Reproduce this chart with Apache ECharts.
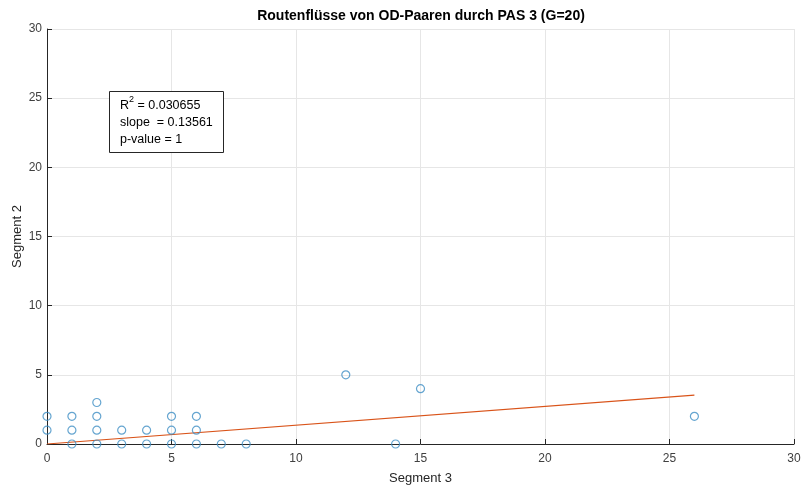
<!DOCTYPE html>
<html>
<head>
<meta charset="utf-8">
<script src="https://cdn.jsdelivr.net/npm/echarts@6/dist/echarts.min.js"></script>
<style>
html,body{margin:0;padding:0;background:#fff;}
#c{width:801px;height:486px;}
</style>
</head>
<body>
<div id="c"></div>
<script>
// Data
var pointsX = [0,0, 1,1,1, 2,2,2,2, 3,3, 4,4, 5,5,5, 6,6,6, 7, 8, 12, 14, 15, 26];
var pointsY = [1,2, 0,1,2, 0,1,2,3, 0,1, 0,1, 0,1,2, 0,1,2, 0, 0, 5, 0, 4, 2];
var fitX = [0, 26];
var fitY = [0.0, 3.53];
var xTicks = [0,5,10,15,20,25,30];
var yTicks = [0,5,10,15,20,25,30];
var titleText = 'Routenflüsse von OD-Paaren durch PAS 3 (G=20)';
var xName = 'Segment 3';
var yName = 'Segment 2';
var statsLines = ['= 0.030655', 'slope  = 0.13561', 'p-value = 1'];

var font = '"Liberation Sans", Arial, Helvetica, sans-serif';
var chart = echarts.init(document.getElementById('c'), null, {renderer:'canvas'});

var scatterData = pointsX.map(function(x,i){return [x, pointsY[i]];});
var lineData = fitX.map(function(x,i){return [x, fitY[i]];});

var axisCommon = {
  min: 0, max: 30, interval: 5,
  axisLine: {show:true, onZero:false, lineStyle:{color:'#262626', width:1}},
  axisTick: {show:true, inside:true, length:5, lineStyle:{color:'#262626'}},
  splitLine: {show:true, lineStyle:{color:'#e6e6e6', width:1}},
  axisLabel: {color:'#404040', fontSize:12, fontFamily:font},
  nameTextStyle: {color:'#262626', fontSize:13, fontFamily:font}
};

chart.setOption({
  animation:false,
  backgroundColor:'#ffffff',
  title:{
    text:titleText, left:416, top:4, textAlign:'center',
    textStyle:{fontSize:14, fontWeight:'bold', color:'#000', fontFamily:font}
  },
  grid:{left:47, right:7, top:29, bottom:42, containLabel:false, outerBoundsMode:'none'},
  xAxis: Object.assign({}, axisCommon, {
    type:'value', name:xName, nameLocation:'middle', nameGap:28,
    axisLabel:Object.assign({}, axisCommon.axisLabel, {margin:9})
  }),
  yAxis: Object.assign({}, axisCommon, {
    type:'value', name:yName, nameLocation:'middle', nameGap:23, nameMoveOverlap:false,
    axisLabel:Object.assign({}, axisCommon.axisLabel, {margin:5})
  }),
  series:[
    {
      type:'scatter', data:scatterData, symbol:'circle', symbolSize:8,
      itemStyle:{color:'rgba(0,0,0,0)', borderColor:'#3f8fc4', borderWidth:1.2},
      z:3
    },
    {
      type:'line', data:lineData, showSymbol:false, symbol:'none',
      lineStyle:{color:'#d95319', width:1.2}, z:2
    }
  ],
  graphic:[
    {
      type:'rect', left:109, top:91, z:10,
      shape:{width:114, height:61},
      style:{fill:'#fff', stroke:'#262626', lineWidth:1}
    },
    {
      type:'text', left:120, top:95, z:11,
      style:{
        text:'{r|R}{s|2}{r| ' + statsLines[0] + '}\n{r|' + statsLines[1] + '}\n{r|' + statsLines[2] + '}',
        rich:{
          r:{fontSize:12.5, fontFamily:font, color:'#000', lineHeight:17, verticalAlign:'bottom'},
          s:{fontSize:9, fontFamily:font, color:'#000', lineHeight:17, verticalAlign:'top', padding:[0,0,6,0]}
        }
      }
    }
  ]
});
</script>
</body>
</html>
